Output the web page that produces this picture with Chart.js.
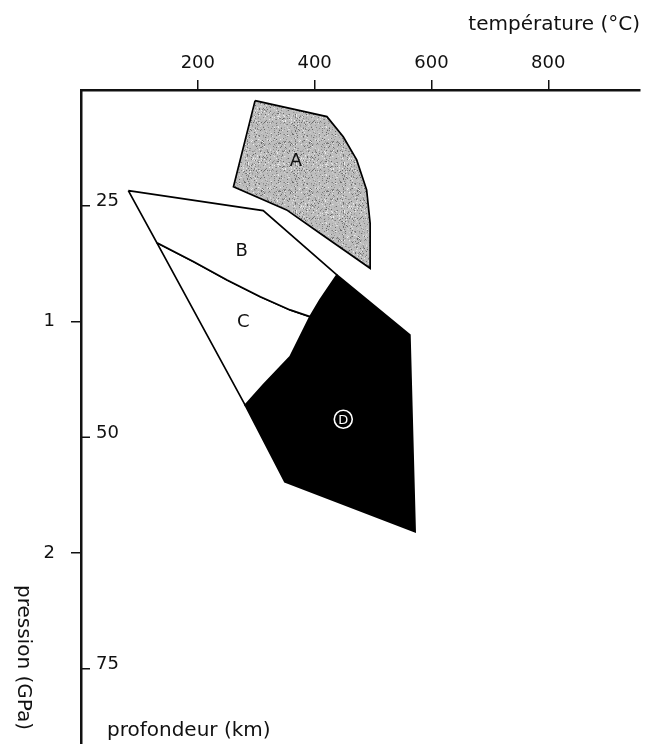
<!DOCTYPE html>
<html>
<head>
<meta charset="utf-8">
<title>P-T domaines</title>
<script src="https://cdn.jsdelivr.net/npm/chart.js@4.4.1/dist/chart.umd.min.js"></script>
<style>
  html, body { margin: 0; padding: 0; background: #fff; overflow: hidden; }
  canvas { display: block; }
</style>
</head>
<body>
<canvas id="ptChart" width="645" height="744"></canvas>
<script>
// ---- axes ----
const tempTicks = [200, 400, 600, 800];      // température (°C)
const pressureTicks = [1, 2];                 // pression (GPa)
const depthTicks = [25, 50, 75];              // profondeur (km)

// ---- domaines : [température °C, pression GPa] ----
const zoneA = [[298, 0.046], [421, 0.115], [449, 0.202], [472, 0.302], [489, 0.432],
               [495, 0.576], [495, 0.770], [409, 0.619], [352, 0.518], [261, 0.418]];
const zoneB = [[81, 0.435], [312, 0.521], [438, 0.799], [409, 0.907], [392, 0.979],
               [358, 0.950], [307, 0.893], [250, 0.821], [193, 0.742], [130, 0.660]];
const zoneC = [[130, 0.660], [193, 0.742], [250, 0.821], [307, 0.893], [358, 0.950],
               [392, 0.979], [358, 1.152], [312, 1.274], [281, 1.361]];
const zoneD = [[438, 0.799], [563, 1.058], [572, 1.908], [349, 1.692], [281, 1.361],
               [312, 1.274], [358, 1.152], [392, 0.979], [409, 0.907]];

// ---- étiquettes des domaines ----
const zoneNames = ['A', 'B', 'C', 'D'];
const labelT = [368, 275, 278, 449];
const labelP = [0.310, 0.698, 1.002, 1.422];

// texture grise pointillée pour A
function stipple() {
    const c = document.createElement('canvas');
    c.width = c.height = 48;
    const g = c.getContext('2d');
    g.fillStyle = '#bdbdbd';
    g.fillRect(0, 0, 48, 48);
    let s = 11;
    const next = () => (s = (s * 16807) % 2147483647);
    for (let i = 0; i < 900; i++) {
        const px = next() % 48, py = next() % 48, v = 100 + next() % 140;
        g.fillStyle = `rgb(${v},${v},${v})`;
        g.fillRect(px, py, 1, 1);
    }
    return g.createPattern(c, 'repeat');
}

function zone(pts, fillStyle) {
    return {
        data: pts.concat([pts[0]]).map(([t, p]) => ({ x: t, y: p })),
        showLine: true,
        fill: 'shape',
        backgroundColor: fillStyle,
        borderColor: '#000',
        borderWidth: 1.7,
        pointRadius: 0,
        tension: 0,
        xAxisID: 'x',
        yAxisID: 'y'
    };
}

const decor = {
    id: 'decor',
    afterDatasetsDraw(chart) {
        const { ctx, scales: { x, y } } = chart;
        ctx.save();
        ctx.textAlign = 'center';
        ctx.textBaseline = 'middle';
        zoneNames.forEach((name, i) => {
            const px = x.getPixelForValue(labelT[i]);
            const py = y.getPixelForValue(labelP[i]);
            if (name === 'D') {
                ctx.strokeStyle = '#fff';
                ctx.lineWidth = 1.6;
                ctx.beginPath();
                ctx.arc(px, py, 9, 0, Math.PI * 2);
                ctx.stroke();
                ctx.fillStyle = '#fff';
                ctx.font = '13px "DejaVu Sans"';
                ctx.fillText('D', px, py + 1);
            } else {
                ctx.fillStyle = '#111';
                ctx.font = '18px "DejaVu Sans"';
                ctx.fillText(name, px, py);
            }
        });
        ctx.restore();
    },
    afterDraw(chart) {
        const { ctx, chartArea, scales: { depth } } = chart;
        ctx.save();
        ctx.strokeStyle = '#111';
        ctx.fillStyle = '#111';
        ctx.lineWidth = 1.5;
        ctx.font = '18px "DejaVu Sans"';
        ctx.textAlign = 'left';
        ctx.textBaseline = 'middle';
        // graduations de profondeur, côté intérieur
        depthTicks.forEach(d => {
            const py = depth.getPixelForValue(d);
            ctx.beginPath();
            ctx.moveTo(chartArea.left, py);
            ctx.lineTo(chartArea.left + 9, py);
            ctx.stroke();
            ctx.fillText(String(d), chartArea.left + 15, py - 4);
        });
        ctx.font = '20px "DejaVu Sans"';
        ctx.fillText('profondeur (km)', 107, 731);
        // titre pression, lu de haut en bas
        ctx.translate(23, 585);
        ctx.rotate(Math.PI / 2);
        ctx.fillText('pression (GPa)', 0, 0);
        ctx.restore();
    }
};

const ctxPT = document.getElementById('ptChart').getContext('2d');
Chart.defaults.font.family = '"DejaVu Sans", sans-serif';
Chart.defaults.color = '#111';

new Chart(ctxPT, {
    type: 'scatter',
    data: {
        datasets: [
            zone(zoneA, stipple()),
            zone(zoneB, '#fff'),
            zone(zoneC, '#fff'),
            zone(zoneD, '#000')
        ]
    },
    options: {
        responsive: false,
        animation: false,
        events: [],
        layout: { autoPadding: false, padding: { left: 0, top: 0, right: 5, bottom: 0 } },
        plugins: { legend: { display: false }, tooltip: { enabled: false } },
        scales: {
            x: {
                type: 'linear',
                position: 'top',
                min: 0,
                max: 957,
                afterBuildTicks: s => { s.ticks = tempTicks.map(v => ({ value: v })); },
                afterFit: s => { s.height = 90; s.paddingLeft = 0; s.paddingRight = 0; },
                grid: { drawOnChartArea: false, tickLength: 10, color: '#111', lineWidth: 1.5 },
                border: { color: '#111', width: 2.5 },
                ticks: { autoSkip: false, maxRotation: 0, padding: 6, font: { size: 18 } },
                title: {
                    display: true,
                    text: 'température (°C)',
                    align: 'end',
                    font: { size: 20 },
                    padding: { top: 13, bottom: 0 }
                }
            },
            y: {
                type: 'linear',
                position: 'left',
                reverse: true,
                min: 0,
                max: 2.825,
                afterBuildTicks: s => { s.ticks = pressureTicks.map(v => ({ value: v })); },
                afterFit: s => { s.width = 81; s.paddingTop = 0; s.paddingBottom = 0; },
                grid: { drawOnChartArea: false, tickLength: 10, color: '#111', lineWidth: 1.5 },
                border: { color: '#111', width: 2.5 },
                ticks: { autoSkip: false, padding: 16, font: { size: 18 } }
            },
            depth: {
                type: 'linear',
                axis: 'y',
                position: 'left',
                display: false,
                reverse: true,
                min: 12.5,
                max: 83.125
            }
        }
    },
    plugins: [decor]
});
</script>
</body>
</html>
